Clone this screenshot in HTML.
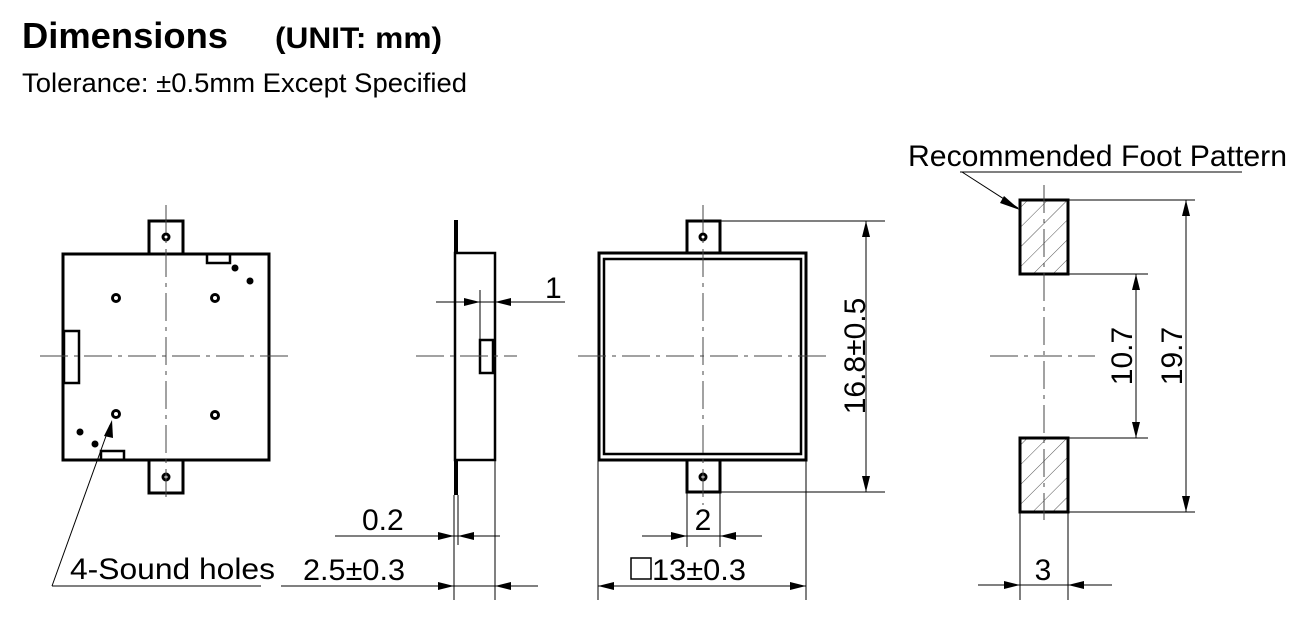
<!DOCTYPE html>
<html><head><meta charset="utf-8"><style>
html,body{margin:0;padding:0;background:#fff;width:1316px;height:636px;overflow:hidden}
svg{display:block}
text{font-family:"Liberation Sans",sans-serif;fill:#000}
</style></head><body>
<svg width="1316" height="636" viewBox="0 0 1316 636" xmlns="http://www.w3.org/2000/svg">
<defs>
<pattern id="h" patternUnits="userSpaceOnUse" width="14" height="14" patternTransform="rotate(45)">
<line x1="0" y1="0" x2="0" y2="14" stroke="#555" stroke-width="1"/></pattern>
</defs>
<text x="22" y="48" font-size="36" font-weight="bold" textLength="206" lengthAdjust="spacingAndGlyphs">Dimensions</text>
<text x="275" y="48" font-size="30" font-weight="bold" textLength="167" lengthAdjust="spacingAndGlyphs">(UNIT: mm)</text>
<text x="22" y="92" font-size="27" textLength="445" lengthAdjust="spacingAndGlyphs">Tolerance: ±0.5mm Except Specified</text>

<g fill="none" stroke="#000">
<g stroke-width="3">
<rect x="63" y="254" width="206" height="206"/>
<path d="M149 254V221H183V254M149 460V493H183V460"/>
<rect x="64" y="331" width="15" height="52" stroke-width="2.5"/>
<rect x="207" y="254" width="23" height="9" stroke-width="2.5"/>
<rect x="101" y="451" width="23" height="9" stroke-width="2.5"/>
<circle cx="166" cy="237" r="3"/><circle cx="166" cy="477" r="3"/>
<circle cx="116" cy="298" r="3.5"/><circle cx="215" cy="298" r="3.5"/>
<circle cx="116" cy="414" r="3.5"/><circle cx="215" cy="415" r="3.5"/>
</g>
<g fill="#000" stroke="none"><circle cx="235" cy="268" r="3.5"/><circle cx="250" cy="281" r="3.5"/><circle cx="80" cy="432" r="3.5"/><circle cx="95" cy="444" r="3.5"/></g>
<path d="M166 205V500M40 356H288" stroke="#444" stroke-width="1" stroke-dasharray="28,6,4,6"/>
<path d="M52 586L110 425M52 586H261" stroke-width="1"/>
<rect x="455" y="253" width="40" height="207" stroke-width="2.5"/>
<path d="M456 220V253M456 460V495" stroke-width="4"/>
<rect x="480" y="340" width="13" height="33" stroke-width="2.5"/>
<path d="M416 356H517" stroke="#444" stroke-dasharray="28,6,4,6"/>
<path d="M480 290V340M436 302H565M454 495V600M458 495V545M495 460V600M335 536H500M281 586H538" stroke-width="1"/>
<rect x="599" y="253" width="207" height="207" stroke-width="3"/>
<rect x="604" y="259" width="197" height="195" stroke-width="2.5"/>
<path d="M687 253V221H720V253M687 460V492H720V460" stroke-width="3"/>
<circle cx="703" cy="237" r="3" stroke-width="3"/><circle cx="703" cy="477" r="3" stroke-width="3"/>
<path d="M703 205V505M578 356H830" stroke="#444" stroke-dasharray="28,6,4,6"/>
<path d="M720 221H885M720 492H885M866 221V492M687 492V547M720 492V547M642 536H762M598 460V600M806 460V600M598 586H806" stroke-width="1"/>
<rect x="1020" y="200" width="48" height="74" fill="url(#h)" stroke-width="3"/>
<rect x="1020" y="438" width="48" height="74" fill="url(#h)" stroke-width="3"/>
<path d="M1044 185V520M990 356H1095" stroke="#444" stroke-dasharray="28,6,4,6"/>
<path d="M1068 200H1195M1068 274H1148M1068 438H1148M1068 512H1195M1136 274V438M1186 200V512M1020 512V600M1068 512V600M978 585H1112M960 172H1242M962 172L1018 208" stroke-width="1"/>
</g>

<g fill="#000">
<polygon points="112,420 104,436 113,438"/>
<polygon points="480,302 464,298 464,306"/><polygon points="495,302 511,298 511,306"/>
<polygon points="454,536 438,532 438,540"/><polygon points="458,536 474,532 474,540"/>
<polygon points="454,586 438,582 438,590"/><polygon points="495,586 511,582 511,590"/>
<polygon points="866,221 862,237 870,237"/><polygon points="866,492 862,476 870,476"/>
<polygon points="687,536 671,532 671,540"/><polygon points="720,536 736,532 736,540"/>
<polygon points="598,586 614,582 614,590"/><polygon points="806,586 790,582 790,590"/>
<polygon points="1136,274 1132,290 1140,290"/><polygon points="1136,438 1132,422 1140,422"/>
<polygon points="1186,200 1182,216 1190,216"/><polygon points="1186,512 1182,496 1190,496"/>
<polygon points="1020,585 1004,581 1004,589"/><polygon points="1068,585 1084,581 1084,589"/>
<polygon points="1020,210 1004,196 1000,203"/>
</g>

<g font-size="30">
<text x="70" y="579" textLength="205" lengthAdjust="spacingAndGlyphs">4-Sound holes</text>
<text x="303" y="580" textLength="102" lengthAdjust="spacingAndGlyphs">2.5±0.3</text>
<text x="362" y="530">0.2</text>
<text x="545" y="298">1</text>
<text x="703" y="530" text-anchor="middle">2</text>
<text x="652" y="580" textLength="94" lengthAdjust="spacingAndGlyphs">13±0.3</text>
<text x="1043" y="580" text-anchor="middle">3</text>
<text x="908" y="166" textLength="379" lengthAdjust="spacingAndGlyphs">Recommended Foot Pattern</text>
<text transform="translate(865,356) rotate(-90)" text-anchor="middle">16.8±0.5</text>
<text transform="translate(1132,356) rotate(-90)" text-anchor="middle">10.7</text>
<text transform="translate(1182,356) rotate(-90)" text-anchor="middle">19.7</text>
</g>
<rect x="631" y="558" width="20" height="21" fill="none" stroke="#000" stroke-width="1.5"/>
</svg>
</body></html>
